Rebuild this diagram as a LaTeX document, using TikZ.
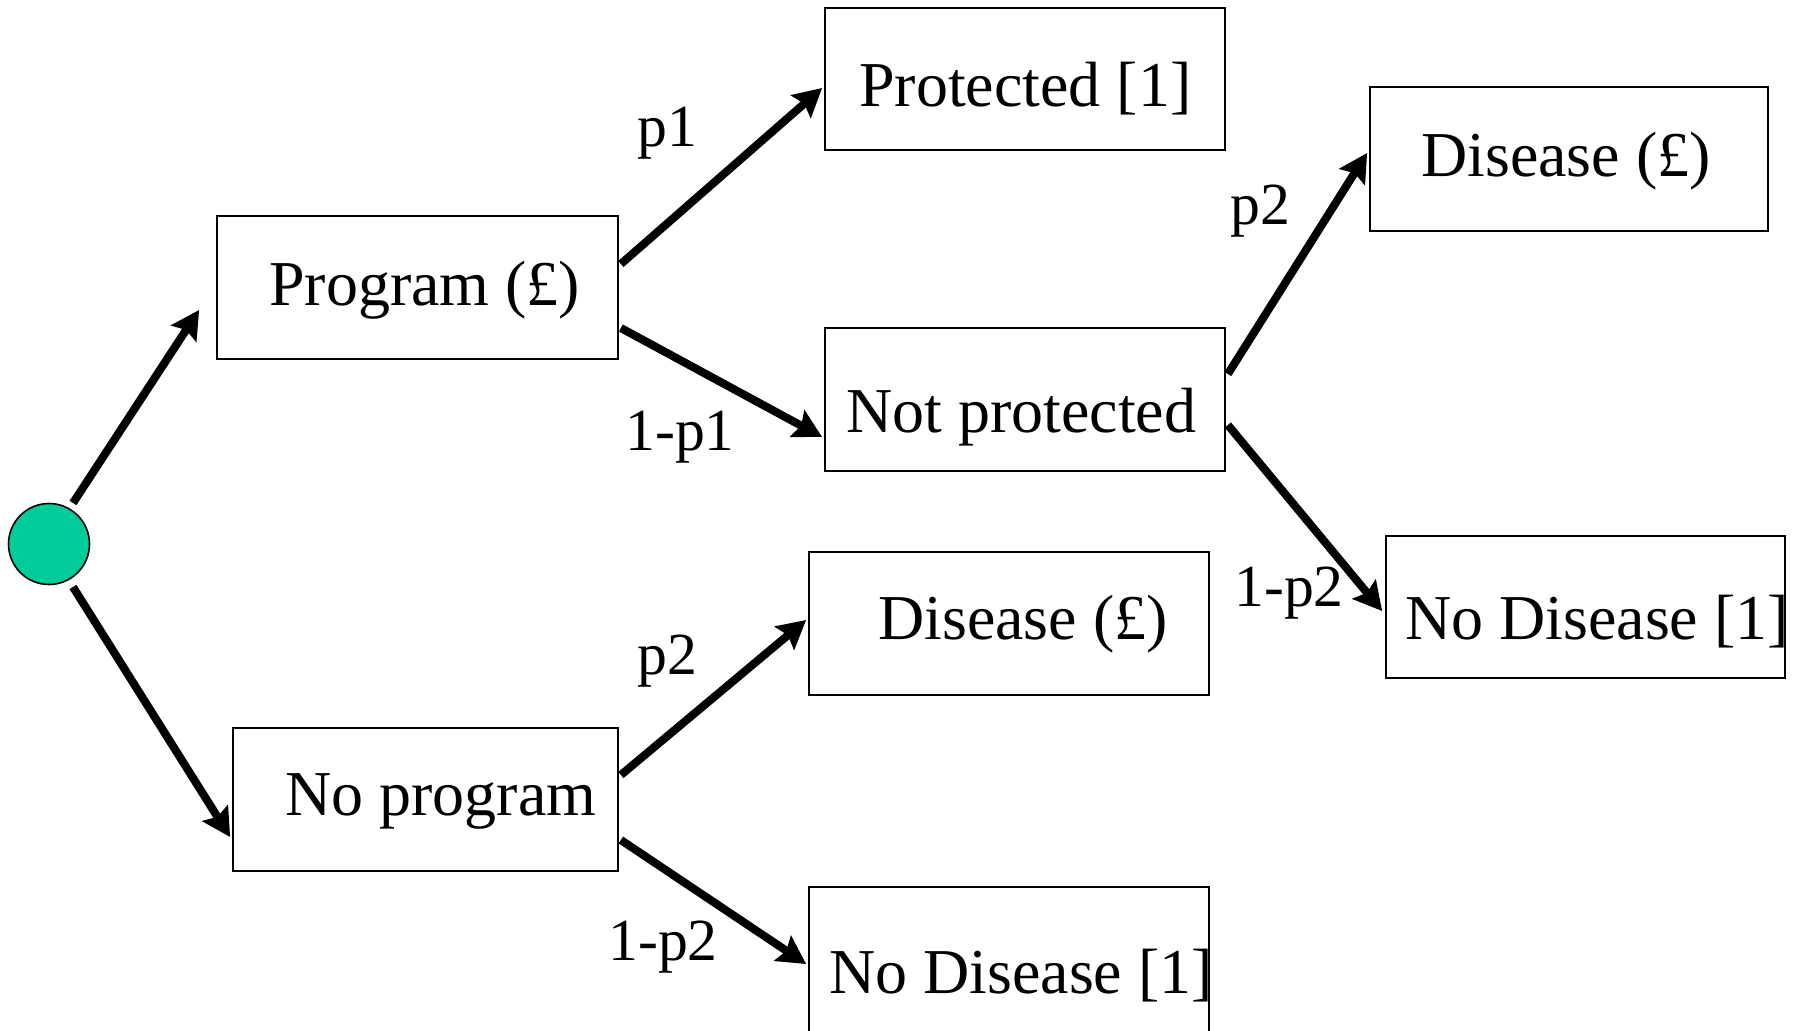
\documentclass[tikz,border=0pt]{standalone}
\usepackage{fontspec}
\setmainfont{Liberation Serif}
\usetikzlibrary{arrows.meta,calc}
\definecolor{chance}{RGB}{0,204,153}
\tikzset{
  box/.style={draw, line width=1pt, rectangle, inner sep=0pt},
  boxtext/.style={anchor=base west, inner sep=0pt, font=\fontsize{36.4}{44}\selectfont},
  prob/.style={anchor=base west, inner sep=0pt, font=\fontsize{34}{40}\selectfont},
  branch/.style={line width=4.6pt, -{Stealth[length=16pt,width=17pt,inset=2.5pt]}},
}
\begin{document}
\begin{tikzpicture}[x=0.02cm,y=-0.02cm]
\useasboundingbox (0,0) rectangle (1800,1031);
\clip (0,0) rectangle (1800,1031);

% root chance node
\node[circle, draw, line width=0.9pt, fill=chance, minimum size=81*0.02cm, inner sep=0pt] (root) at (49,544) {};

% outcome boxes
\node[box, minimum width=401*0.02cm, minimum height=143*0.02cm] (prog)    at (417.5,287.5) {};
\node[box, minimum width=385*0.02cm, minimum height=143*0.02cm] (noprog)  at (425.5,799.5) {};
\node[box, minimum width=400*0.02cm, minimum height=142*0.02cm] (prot)    at (1025,79) {};
\node[box, minimum width=400*0.02cm, minimum height=143*0.02cm] (notprot) at (1025,399.5) {};
\node[box, minimum width=400*0.02cm, minimum height=143*0.02cm] (dis1)    at (1009,623.5) {};
\node[box, minimum width=400*0.02cm, minimum height=145*0.02cm] (nodis1)  at (1009,959.5) {};
\node[box, minimum width=398*0.02cm, minimum height=144*0.02cm] (dis2)    at (1569,159) {};
\node[box, minimum width=399*0.02cm, minimum height=142*0.02cm] (nodis2)  at (1585.5,607) {};

% box texts
\node[boxtext] (tprog)    at (269,305)  {Program (£)};
\node[boxtext] (tnoprog)  at (285,815)  {No program};
\node[boxtext] (tprot)    at (859,106)  {Protected [1]};
\node[boxtext] (tnotprot) at (846,432)  {Not protected};
\node[boxtext] (tdis1)    at (878,639)  {Disease (£)};
\node[boxtext] (tnodis1)  at (829,993)  {No Disease [1]};
\node[boxtext] (tdis2)    at (1421,176) {Disease (£)};
\node[boxtext] (tnodis2)  at (1405,639) {No Disease [1]};

% branch probabilities
\node[prob] (lp1)   at (637,146)  {p1};
\node[prob] (lq1)   at (625,450)  {1-p1};
\node[prob] (lp2a)  at (1230,224) {p2};
\node[prob] (lq2a)  at (1234,606) {1-p2};
\node[prob] (lp2b)  at (637,674)  {p2};
\node[prob] (lq2b)  at (608,960)  {1-p2};

% branches
\draw[branch] ($(root)+(24,-41)$) -- ($(prog.west)+(-17,22.5)$);
\draw[branch] ($(root)+(24,43)$) -- ($(noprog.west)+(-2,37.5)$);
\draw[branch] ($(prog.east)+(2,-23.5)$) -- ($(prot.west)+(-2,9)$);
\draw[branch] ($(prog.east)+(2,40.5)$) -- ($(notprot.west)+(-2,37.5)$);
\draw[branch] ($(notprot.east)+(2,-25.5)$) -- ($(dis2.west)+(-2,-6)$);
\draw[branch] ($(notprot.east)+(2,25.5)$) -- ($(nodis2.west)+(-3,4)$);
\draw[branch] ($(noprog.east)+(2,-24.5)$) -- ($(dis1.west)+(-2,-3.5)$);
\draw[branch] ($(noprog.east)+(2,40.5)$) -- ($(nodis1.west)+(-2,4.5)$);
\end{tikzpicture}
\end{document}
